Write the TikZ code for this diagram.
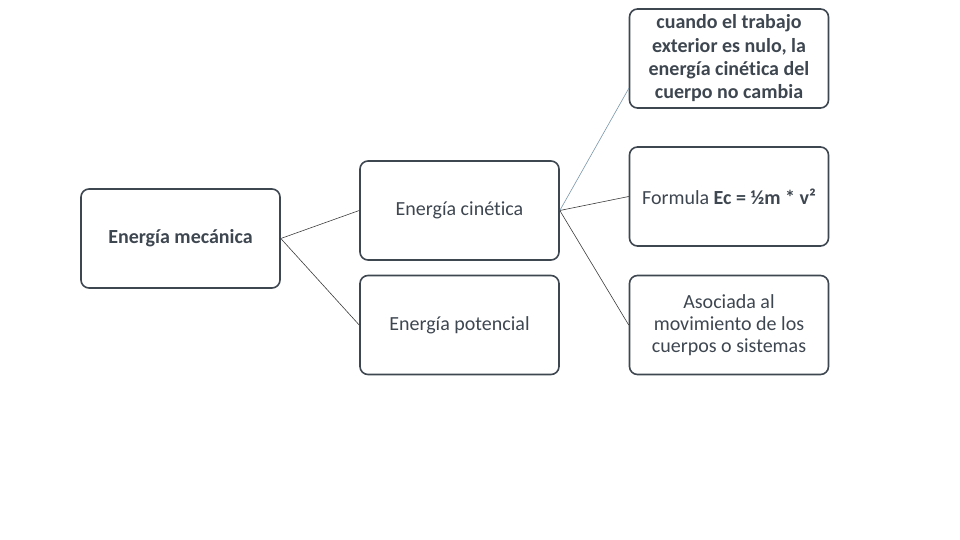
\documentclass[tikz,border=0pt]{standalone}
\usepackage{fontspec}
\setmainfont{Carlito}[Ligatures=NoCommon]
\definecolor{ink}{RGB}{62,70,80}
\definecolor{lnk}{RGB}{60,60,60}
\definecolor{blu}{RGB}{120,150,170}
\begin{document}
\begin{tikzpicture}[x=1pt,y=-1pt,
  box/.style={draw=ink,line width=1.6pt,rounded corners=8pt,minimum width=199pt,minimum height=99pt,inner sep=2pt,text=ink,align=center,font=\fontsize{20}{22}\selectfont},
  conn/.style={draw=lnk,line width=0.6pt}]
\useasboundingbox (0,0) rectangle (960,540);
\node[box,font=\fontsize{20}{22}\selectfont\bfseries] (mec) at (180.5,238.5) {Energía mecánica};
\node[box] (cin) at (459.5,210.5) {Energía cinética};
\node[box] (pot) at (459.5,325) {Energía potencial};
\node[box,font=\fontsize{20}{23.3}\selectfont\bfseries] (top) at (729,58.5) {cuando el trabajo\\exterior es nulo, la\\energía cinética del\\cuerpo no cambia};
\node[box] (for) at (729,196.5) {Formula \textbf{Ec = ½m * v²}};
\node[box] (aso) at (729,325) {Asociada al\\movimiento de los\\cuerpos o sistemas};
\coordinate (tin) at (629,88);
\draw[conn] (mec.east) -- (cin.west);
\draw[conn] (mec.east) -- (pot.west);
\draw[conn,draw=blu] (cin.east) -- (tin);
\draw[conn] (cin.east) -- (for.west);
\draw[conn] (cin.east) -- (aso.west);
\end{tikzpicture}
\end{document}
